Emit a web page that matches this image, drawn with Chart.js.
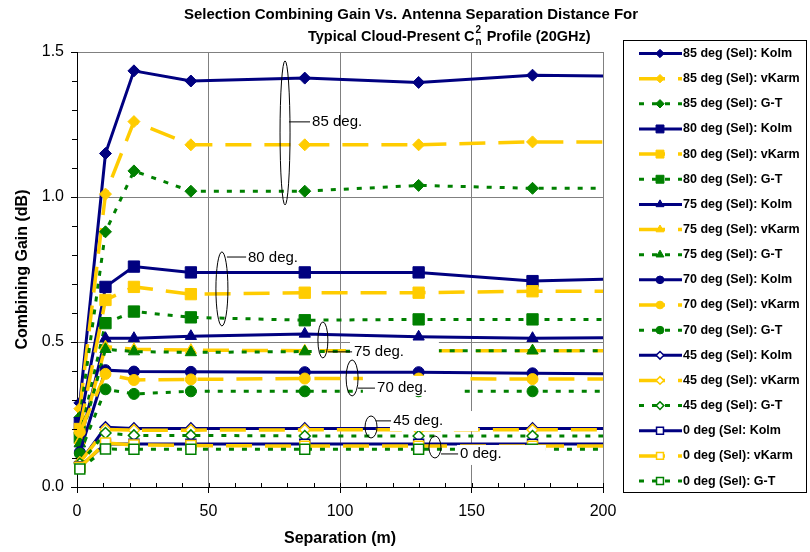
<!DOCTYPE html>
<html>
<head>
<meta charset="utf-8">
<script src="https://cdn.jsdelivr.net/npm/chart.js@4.4.1/dist/chart.umd.min.js"></script>
<style>
  html, body { margin: 0; padding: 0; background: #fff; }
  #wrap { width: 810px; height: 552px; }
</style>
</head>
<body>
<div id="wrap"><canvas id="chart" width="810" height="552"></canvas></div>
<script>
// antenna separation (m) of each measured point; last one lies past the axis end
const separation = [1.08, 10.83, 21.65, 43.3, 86.6, 129.9, 173.2, 216.5];

// combining gain (dB) per elevation angle and turbulence model
const kolm85  = [0.29, 1.15, 1.435, 1.40, 1.41, 1.395, 1.42, 1.415];
const vkarm85 = [0.27, 1.01, 1.26, 1.18, 1.18, 1.18, 1.19, 1.19];
const gt85    = [0.24, 0.88, 1.09, 1.02, 1.02, 1.04, 1.03, 1.03];
const kolm80  = [0.22, 0.69, 0.76, 0.74, 0.74, 0.74, 0.71, 0.72];
const vkarm80 = [0.20, 0.645, 0.69, 0.665, 0.67, 0.67, 0.675, 0.675];
const gt80    = [0.17, 0.565, 0.605, 0.585, 0.575, 0.578, 0.578, 0.578];
const kolm75  = [0.15, 0.513, 0.513, 0.52, 0.528, 0.518, 0.513, 0.515];
const vkarm75 = [0.16, 0.484, 0.475, 0.472, 0.47, 0.47, 0.47, 0.47];
const gt75    = [0.15, 0.475, 0.467, 0.464, 0.467, 0.47, 0.47, 0.47];
const kolm70  = [0.12, 0.403, 0.398, 0.397, 0.396, 0.396, 0.392, 0.39];
const vkarm70 = [0.19, 0.39, 0.369, 0.371, 0.374, 0.374, 0.372, 0.372];
const gt70    = [0.115, 0.337, 0.321, 0.33, 0.33, 0.33, 0.33, 0.33];
const kolm45  = [0.085, 0.206, 0.202, 0.202, 0.202, 0.202, 0.202, 0.202];
const vkarm45 = [0.085, 0.198, 0.196, 0.196, 0.197, 0.197, 0.197, 0.197];
const gt45    = [0.08, 0.186, 0.178, 0.178, 0.176, 0.176, 0.176, 0.176];
const kolm0   = [0.07, 0.148, 0.148, 0.148, 0.148, 0.148, 0.148, 0.148];
const vkarm0  = [0.068, 0.152, 0.145, 0.143, 0.141, 0.141, 0.141, 0.141];
const gt0     = [0.062, 0.131, 0.13, 0.13, 0.13, 0.13, 0.13, 0.13];

const seriesLabels = [
  '85 deg (Sel): Kolm', '85 deg (Sel): vKarm', '85 deg (Sel): G-T',
  '80 deg (Sel): Kolm', '80 deg (Sel): vKarm', '80 deg (Sel): G-T',
  '75 deg (Sel): Kolm', '75 deg (Sel): vKarm', '75 deg (Sel): G-T',
  '70 deg (Sel): Kolm', '70 deg (Sel): vKarm', '70 deg (Sel): G-T',
  '45 deg (Sel): Kolm', '45 deg (Sel): vKarm', '45 deg (Sel): G-T',
  '0 deg (Sel: Kolm', '0 deg (Sel): vKarm', '0 deg (Sel): G-T',
];
const seriesValues = [
  kolm85, vkarm85, gt85, kolm80, vkarm80, gt80, kolm75, vkarm75, gt75,
  kolm70, vkarm70, gt70, kolm45, vkarm45, gt45, kolm0, vkarm0, gt0,
];

const xTicks = [0, 50, 100, 150, 200];
const yTicks = [0.0, 0.5, 1.0, 1.5];

// angle callouts (ellipse round the curves, leader line, label)
const callouts = [
  { text: '85 deg.', e: [79.1, 1.221], r: [5, 72], l: [80.6, 1.259, 88.6, 1.259], t: [89.4, 1.259] },
  { text: '80 deg.', e: [55.1, 0.683], r: [6, 37], l: [57.0, 0.793, 64.3, 0.793], t: [65.0, 0.79] },
  { text: '75 deg.', e: [93.5, 0.507], r: [5, 18], l: [95.4, 0.466, 104.6, 0.466], t: [105.3, 0.466], box: [103.8, 0.503, 137.6, 0.431] },
  { text: '70 deg.', e: [104.6, 0.376], r: [6, 18], l: [106.8, 0.341, 113.3, 0.341], t: [114.1, 0.341], box: [108.7, 0.383, 146.4, 0.314] },
  { text: '45 deg.', e: [111.8, 0.207], r: [6, 11], l: [113.7, 0.228, 119.4, 0.228], t: [120.2, 0.228], box: [119.0, 0.262, 152.5, 0.193] },
  { text: '0 deg.', e: [136.1, 0.138], r: [6, 11], l: [138.4, 0.114, 144.9, 0.114], t: [145.6, 0.114], box: [144.5, 0.145, 178.3, 0.076] },
];

const FONT = '"Liberation Sans", Arial, sans-serif';
const colors = ['#000080', '#FFCC00', '#008000'];
const widths = [3, 3.5, 3];
const dashes = [[], [26, 13], [5, 8]];
const shapes = ['rectRot', 'rect', 'triangle', 'circle', 'rectRot', 'rect'];
const sizes = [6, 8, 6.5, 5.5, 5.5, 7];

const datasets = seriesValues.map((vals, i) => {
  const angle = Math.floor(i / 3);
  const model = i % 3;
  const hollow = angle >= 4;
  return {
    label: seriesLabels[i],
    data: separation.map((x, k) => ({ x, y: vals[k] })),
    borderColor: colors[model],
    borderWidth: widths[model],
    borderDash: dashes[model],
    pointStyle: shapes[angle],
    pointRadius: sizes[angle],
    pointHoverRadius: sizes[angle],
    pointBackgroundColor: hollow ? '#ffffff' : colors[model],
    pointBorderColor: colors[model],
    pointBorderWidth: hollow ? 1.5 : 1,
    tension: 0,
    order: -i,
    clip: { left: 10, top: 10, right: 0, bottom: 10 },
  };
});

const decorPlugin = {
  id: 'decor',
  afterDatasetsDraw(chart) {
    const { ctx, scales: { x, y } } = chart;
    ctx.save();
    ctx.font = '15px ' + FONT;
    ctx.textBaseline = 'middle';
    for (const c of callouts) {
      if (c.box) {
        ctx.fillStyle = '#fff';
        const x1 = x.getPixelForValue(c.box[0]), y1 = y.getPixelForValue(c.box[1]);
        const x2 = x.getPixelForValue(c.box[2]), y2 = y.getPixelForValue(c.box[3]);
        ctx.fillRect(x1, y1, x2 - x1, y2 - y1);
      }
      ctx.strokeStyle = '#000';
      ctx.lineWidth = 1;
      ctx.beginPath();
      ctx.ellipse(x.getPixelForValue(c.e[0]), y.getPixelForValue(c.e[1]), c.r[0], c.r[1], 0, 0, Math.PI * 2);
      ctx.stroke();
      ctx.beginPath();
      ctx.moveTo(x.getPixelForValue(c.l[0]), y.getPixelForValue(c.l[1]));
      ctx.lineTo(x.getPixelForValue(c.l[2]), y.getPixelForValue(c.l[3]));
      ctx.stroke();
      ctx.fillStyle = '#000';
      ctx.fillText(c.text, x.getPixelForValue(c.t[0]), y.getPixelForValue(c.t[1]));
    }
    ctx.restore();
  },
  afterDraw(chart) {
    const { ctx, scales: { x, y } } = chart;
    ctx.save();
    // minor ticks
    ctx.strokeStyle = '#000';
    ctx.lineWidth = 1;
    ctx.beginPath();
    for (let v = 0; v <= 1.5001; v += 0.1) {
      const py = Math.round(y.getPixelForValue(v)) + 0.5;
      ctx.moveTo(x.left - 5, py);
      ctx.lineTo(x.left, py);
    }
    for (let v = 0; v <= 200; v += 10) {
      const px = Math.round(x.getPixelForValue(v)) + 0.5;
      ctx.moveTo(px, y.bottom - 4);
      ctx.lineTo(px, y.bottom);
    }
    ctx.stroke();

    // title
    ctx.fillStyle = '#000';
    ctx.textBaseline = 'alphabetic';
    ctx.font = 'bold 15px ' + FONT;
    ctx.textAlign = 'center';
    ctx.fillText('Selection Combining Gain Vs. Antenna Separation Distance For', 411, 19);
    ctx.textAlign = 'left';
    let tx = 308;
    const part1 = 'Typical Cloud-Present C';
    ctx.font = 'bold 14.5px ' + FONT;
    ctx.fillText(part1, tx, 41);
    tx += ctx.measureText(part1).width;
    ctx.font = 'bold 10px ' + FONT;
    ctx.fillText('n', tx + 1, 45);
    ctx.fillText('2', tx + 1, 33);
    tx += ctx.measureText('n').width + 2;
    ctx.font = 'bold 14.5px ' + FONT;
    ctx.fillText(' Profile (20GHz)', tx, 41);

    // legend
    ctx.fillStyle = '#fff';
    ctx.strokeStyle = '#000';
    ctx.lineWidth = 1;
    ctx.fillRect(623.5, 40.5, 183, 452);
    ctx.strokeRect(623.5, 40.5, 183, 452);
    ctx.textBaseline = 'middle';
    chart.data.datasets.forEach((ds, i) => {
      const ly = 53.5 + i * 25.15;
      ctx.beginPath();
      ctx.setLineDash(ds.borderDash);
      ctx.lineWidth = ds.borderWidth;
      ctx.strokeStyle = ds.borderColor;
      ctx.moveTo(639, ly);
      ctx.lineTo(682, ly);
      ctx.stroke();
      ctx.setLineDash([]);
      ctx.fillStyle = ds.pointBackgroundColor;
      ctx.strokeStyle = ds.pointBorderColor;
      ctx.lineWidth = ds.pointBorderWidth;
      Chart.helpers.drawPoint(ctx, {
        pointStyle: ds.pointStyle, radius: ds.pointRadius * 0.7,
        borderWidth: ds.pointBorderWidth, rotation: 0,
      }, 660, ly);
      ctx.fillStyle = '#000';
      ctx.font = 'bold 12.5px ' + FONT;
      ctx.fillText(ds.label, 683, ly);
    });
    ctx.restore();
  },
};

const tickFont = { family: FONT, size: 16 };
const titleFont = { family: FONT, size: 16, weight: 'bold' };

new Chart(document.getElementById('chart'), {
  type: 'line',
  data: { datasets },
  plugins: [decorPlugin],
  options: {
    responsive: false,
    animation: false,
    events: [],
    layout: { padding: { top: 52, right: 207, left: 0, bottom: 0 } },
    plugins: { legend: { display: false }, tooltip: { enabled: false }, title: { display: false } },
    scales: {
      x: {
        type: 'linear', min: 0, max: 200,
        afterBuildTicks: (s) => { s.ticks = xTicks.map(v => ({ value: v })); },
        afterFit: (s) => { s.height = 65; },
        ticks: { font: tickFont, color: '#000', padding: 9, maxRotation: 0 },
        grid: { color: '#808080', lineWidth: 1, tickLength: 6, tickColor: '#000' },
        border: { color: '#000', width: 1 },
        title: { display: true, text: 'Separation (m)', font: titleFont, color: '#000', padding: { top: 0, bottom: 4 } },
      },
      y: {
        min: 0, max: 1.5,
        afterBuildTicks: (s) => { s.ticks = yTicks.map(v => ({ value: v })); },
        afterFit: (s) => { s.width = 77; },
        ticks: { font: tickFont, color: '#000', padding: 7, callback: (v) => Number(v).toFixed(1) },
        grid: { color: '#808080', lineWidth: 1, tickLength: 6, tickColor: '#000' },
        border: { color: '#000', width: 1 },
        title: { display: true, text: 'Combining Gain (dB)', font: titleFont, color: '#000', padding: { top: 13, bottom: 0 } },
      },
    },
  },
});
</script>
</body>
</html>
